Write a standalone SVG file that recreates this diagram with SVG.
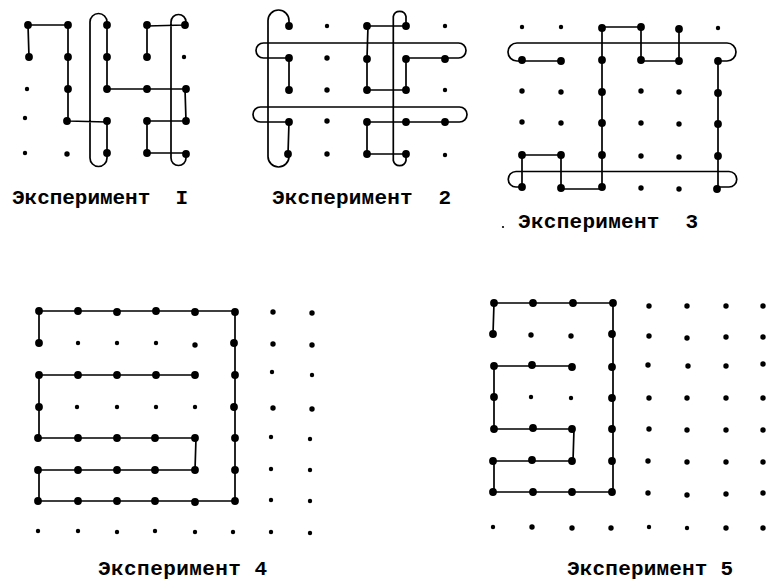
<svg xmlns="http://www.w3.org/2000/svg" width="766" height="581" viewBox="0 0 766 581">
<style>
.conn path{fill:none;stroke:#000;stroke-width:1.7;stroke-linejoin:round;stroke-linecap:round}
.b{fill:#000;r:3.9}
.m{fill:#000;r:2.7}
.s{fill:#000;r:2.2}
text{font-family:"Liberation Mono","DejaVu Sans Mono",monospace;font-size:21px;font-weight:bold;fill:#000}
</style>
<rect width="766" height="581" fill="#fff"/>

<!-- Experiment 1 -->
<g id="exp1">
<g class="conn">
<path d="M29,57 L28,25 L68,25 L68,121 L107,122 L107,158 A8.5,8.5 0 0 1 90,158 L90,22 A8.5,8.5 0 0 1 107,22 L107,89 L185,89 L186,121 L147,121 L147,153 L185,153 L186,158 A7.5,7.5 0 0 1 171,158 L171,22 A7.5,7.5 0 0 1 186,22 L185,25 L147,26 L147,57"/>
</g>
<g class="dots">
<circle class="b" cx="28" cy="25"/><circle class="b" cx="68" cy="25"/><circle class="b" cx="107" cy="25"/><circle class="b" cx="147" cy="25"/><circle class="b" cx="185" cy="25"/>
<circle class="b" cx="29" cy="57"/><circle class="b" cx="68" cy="57"/><circle class="b" cx="107" cy="57"/><circle class="b" cx="147" cy="57"/><circle class="s" cx="184" cy="57"/>
<circle class="s" cx="27" cy="89"/><circle class="b" cx="68" cy="89"/><circle class="b" cx="107" cy="89"/><circle class="b" cx="147" cy="89"/><circle class="b" cx="186" cy="89"/>
<circle class="s" cx="25" cy="118"/><circle class="b" cx="67" cy="121"/><circle class="b" cx="107" cy="121"/><circle class="b" cx="147" cy="121"/><circle class="b" cx="186" cy="121"/>
<circle class="s" cx="25" cy="153"/><circle class="m" cx="67" cy="154"/><circle class="b" cx="107" cy="153"/><circle class="b" cx="147" cy="153"/><circle class="b" cx="186" cy="154"/>
</g>
<text x="12" y="204" textLength="176" xml:space="preserve">Эксперимент  I</text>
</g>

<!-- Experiment 2 -->
<g id="exp2">
<g class="conn">
<path d="M289,90 L289,58 L263.5,58 A7.5,7.5 0 0 1 263.5,43 L458.5,43 A7.5,7.5 0 0 1 458.5,58 L445,58 L406,58 L406,90 L367,90 L367,58 L368,26 L406,26 L406,16.5 A6.5,6.5 0 0 0 393.3,16.5 L393.3,160.5 A6.5,6.5 0 0 0 406,160.5 L406,154 L367,154 L367,122 L459.5,122 A7.5,7.5 0 0 0 459.5,107 L260.5,107 A7.5,7.5 0 0 0 260.5,122 L289,122 L288,154 L289,156.5 A10.5,10.5 0 0 1 268,156.5 L268,20.5 A10.5,10.5 0 0 1 289,20.5 L289,26"/>
</g>
<g class="dots">
<circle class="b" cx="289" cy="26"/><circle class="s" cx="327" cy="26"/><circle class="b" cx="367" cy="26"/><circle class="b" cx="406" cy="26"/><circle class="s" cx="445" cy="26"/>
<circle class="b" cx="289" cy="58"/><circle class="m" cx="327" cy="58"/><circle class="b" cx="367" cy="59"/><circle class="b" cx="406" cy="59"/><circle class="b" cx="445" cy="59"/>
<circle class="b" cx="289" cy="90"/><circle class="m" cx="327" cy="90"/><circle class="b" cx="367" cy="90"/><circle class="b" cx="406" cy="90"/><circle class="s" cx="445" cy="90"/>
<circle class="b" cx="289" cy="122"/><circle class="m" cx="327" cy="121"/><circle class="b" cx="367" cy="122"/><circle class="b" cx="406" cy="122"/><circle class="b" cx="445" cy="122"/>
<circle class="b" cx="288" cy="154"/><circle class="m" cx="327" cy="154"/><circle class="b" cx="367" cy="154"/><circle class="b" cx="406" cy="154"/><circle class="s" cx="445" cy="155"/>
</g>
<text x="272" y="204" textLength="179" xml:space="preserve">Эксперимент  2</text>
</g>

<!-- Experiment 3 -->
<g id="exp3">
<g class="conn">
<path d="M561,61 L522,61 L517,61 A9,9 0 0 1 517,43 L727,43 A9,9 0 0 1 727,61 L718,61 L718,187 L729,187 A7.75,7.75 0 0 0 729,171.5 L516,171.5 A7.75,7.75 0 0 0 516,187 L522,187 L522,155 L561,155 L561,189 L602,189 L602,27 L641,27 L641,61 L679,61 L679,27"/>
</g>
<g class="dots">
<circle class="s" cx="522" cy="27"/><circle class="s" cx="561" cy="27"/><circle class="b" cx="602" cy="28"/><circle class="b" cx="641" cy="27"/><circle class="b" cx="679" cy="29"/><circle class="s" cx="718" cy="28"/>
<circle class="b" cx="522" cy="60"/><circle class="b" cx="561" cy="61"/><circle class="b" cx="602" cy="60"/><circle class="b" cx="641" cy="60"/><circle class="b" cx="679" cy="61"/><circle class="b" cx="718" cy="61"/>
<circle class="m" cx="522" cy="91"/><circle class="m" cx="561" cy="92"/><circle class="b" cx="602" cy="92"/><circle class="m" cx="641" cy="91"/><circle class="m" cx="679" cy="92"/><circle class="b" cx="718" cy="93"/>
<circle class="m" cx="522" cy="122"/><circle class="m" cx="561" cy="123"/><circle class="b" cx="602" cy="123"/><circle class="m" cx="641" cy="123"/><circle class="m" cx="679" cy="124"/><circle class="b" cx="718" cy="124"/>
<circle class="b" cx="522" cy="155"/><circle class="b" cx="561" cy="155"/><circle class="b" cx="602" cy="155"/><circle class="m" cx="641" cy="156"/><circle class="m" cx="679" cy="157"/><circle class="b" cx="718" cy="156"/>
<circle class="b" cx="522" cy="187"/><circle class="b" cx="561" cy="188"/><circle class="b" cx="602" cy="187"/><circle class="m" cx="641" cy="188"/><circle class="m" cx="679" cy="189"/><circle class="b" cx="717" cy="189"/>
</g>
<circle cx="503" cy="227" r="1.1" fill="#000"/>
<text x="518" y="228" textLength="180" xml:space="preserve">Эксперимент  3</text>
</g>

<!-- Experiment 4 -->
<g id="exp4">
<g class="conn">
<path d="M39,343 L39,311 L235,311 L235,501 L39,501 L39,470 L195,470 L196,438 L39,438 L39,375 L195,375"/>
</g>
<g class="dots">
<circle class="b" cx="39" cy="311"/><circle class="b" cx="78" cy="311"/><circle class="b" cx="117" cy="312"/><circle class="b" cx="156" cy="311"/><circle class="b" cx="195" cy="312"/><circle class="b" cx="235" cy="312"/><circle class="m" cx="273" cy="312"/><circle class="m" cx="312" cy="313"/>
<circle class="b" cx="39" cy="343"/><circle class="s" cx="78" cy="343"/><circle class="s" cx="117" cy="343"/><circle class="s" cx="156" cy="343"/><circle class="m" cx="195" cy="345"/><circle class="b" cx="234" cy="343"/><circle class="m" cx="273" cy="344"/><circle class="m" cx="312" cy="345"/>
<circle class="b" cx="39" cy="375"/><circle class="b" cx="78" cy="375"/><circle class="b" cx="117" cy="375"/><circle class="b" cx="156" cy="375"/><circle class="b" cx="195" cy="375"/><circle class="b" cx="235" cy="375"/><circle class="s" cx="272" cy="372"/><circle class="s" cx="312" cy="375"/>
<circle class="b" cx="39" cy="407"/><circle class="s" cx="77" cy="407"/><circle class="s" cx="117" cy="407"/><circle class="s" cx="156" cy="407"/><circle class="s" cx="195" cy="407"/><circle class="b" cx="234" cy="407"/><circle class="m" cx="273" cy="408"/><circle class="m" cx="312" cy="409"/>
<circle class="b" cx="38" cy="438"/><circle class="b" cx="78" cy="438"/><circle class="b" cx="117" cy="438"/><circle class="b" cx="155" cy="438"/><circle class="b" cx="195" cy="438"/><circle class="b" cx="235" cy="438"/><circle class="s" cx="271" cy="437"/><circle class="s" cx="310" cy="439"/>
<circle class="b" cx="38" cy="470"/><circle class="b" cx="78" cy="470"/><circle class="b" cx="117" cy="470"/><circle class="b" cx="155" cy="470"/><circle class="b" cx="195" cy="470"/><circle class="b" cx="235" cy="470"/><circle class="s" cx="271" cy="469"/><circle class="s" cx="310" cy="470"/>
<circle class="b" cx="38" cy="501"/><circle class="b" cx="78" cy="501"/><circle class="b" cx="117" cy="501"/><circle class="b" cx="155" cy="501"/><circle class="b" cx="195" cy="502"/><circle class="b" cx="235" cy="501"/><circle class="s" cx="271" cy="500"/><circle class="s" cx="310" cy="501"/>
<circle class="s" cx="38" cy="531"/><circle class="s" cx="78" cy="531"/><circle class="s" cx="117" cy="532"/><circle class="s" cx="155" cy="531"/><circle class="s" cx="195" cy="532"/><circle class="s" cx="233" cy="532"/><circle class="s" cx="271" cy="532"/><circle class="s" cx="310" cy="533"/>
</g>
<text x="98" y="575" textLength="169" xml:space="preserve">Эксперимент 4</text>
</g>

<!-- Experiment 5 -->
<g id="exp5">
<g class="conn">
<path d="M493,334 L494,303 L613,303 L613,492 L494,492 L494,461 L573,461 L574,429 L494,429 L494,366 L573,366"/>
</g>
<g class="dots">
<circle class="b" cx="494" cy="303"/><circle class="b" cx="533" cy="303"/><circle class="b" cx="573" cy="303"/><circle class="b" cx="613" cy="303"/><circle class="m" cx="649" cy="306"/><circle class="m" cx="687" cy="306"/><circle class="m" cx="726" cy="306"/><circle class="m" cx="763" cy="306"/>
<circle class="b" cx="493" cy="334"/><circle class="m" cx="531" cy="335"/><circle class="m" cx="571" cy="336"/><circle class="b" cx="612" cy="334"/><circle class="m" cx="649" cy="336"/><circle class="m" cx="687" cy="338"/><circle class="m" cx="726" cy="337"/><circle class="m" cx="763" cy="337"/>
<circle class="b" cx="494" cy="366"/><circle class="b" cx="532" cy="365"/><circle class="b" cx="572" cy="367"/><circle class="b" cx="612" cy="367"/><circle class="m" cx="648" cy="365"/><circle class="m" cx="688" cy="366"/><circle class="m" cx="726" cy="366"/><circle class="m" cx="763" cy="364"/>
<circle class="b" cx="494" cy="397"/><circle class="s" cx="531" cy="397"/><circle class="s" cx="571" cy="398"/><circle class="b" cx="612" cy="398"/><circle class="m" cx="649" cy="398"/><circle class="m" cx="687" cy="398"/><circle class="m" cx="726" cy="398"/><circle class="m" cx="763" cy="398"/>
<circle class="b" cx="494" cy="429"/><circle class="b" cx="533" cy="428"/><circle class="b" cx="572" cy="429"/><circle class="b" cx="612" cy="429"/><circle class="m" cx="649" cy="429"/><circle class="m" cx="687" cy="430"/><circle class="m" cx="726" cy="430"/><circle class="m" cx="763" cy="430"/>
<circle class="b" cx="493" cy="461"/><circle class="b" cx="532" cy="460"/><circle class="b" cx="572" cy="461"/><circle class="b" cx="612" cy="461"/><circle class="m" cx="648" cy="461"/><circle class="m" cx="687" cy="462"/><circle class="m" cx="726" cy="462"/><circle class="m" cx="763" cy="462"/>
<circle class="b" cx="493" cy="492"/><circle class="b" cx="533" cy="492"/><circle class="b" cx="572" cy="492"/><circle class="b" cx="612" cy="492"/><circle class="m" cx="648" cy="493"/><circle class="m" cx="687" cy="495"/><circle class="m" cx="726" cy="494"/><circle class="m" cx="763" cy="493"/>
<circle class="s" cx="493" cy="527"/><circle class="m" cx="532" cy="527"/><circle class="m" cx="572" cy="528"/><circle class="m" cx="611" cy="528"/><circle class="s" cx="649" cy="527"/><circle class="s" cx="687" cy="528"/><circle class="m" cx="726" cy="528"/><circle class="m" cx="763" cy="528"/>
</g>
<text x="567" y="575" textLength="166" xml:space="preserve">Эксперимент 5</text>
</g>
</svg>
